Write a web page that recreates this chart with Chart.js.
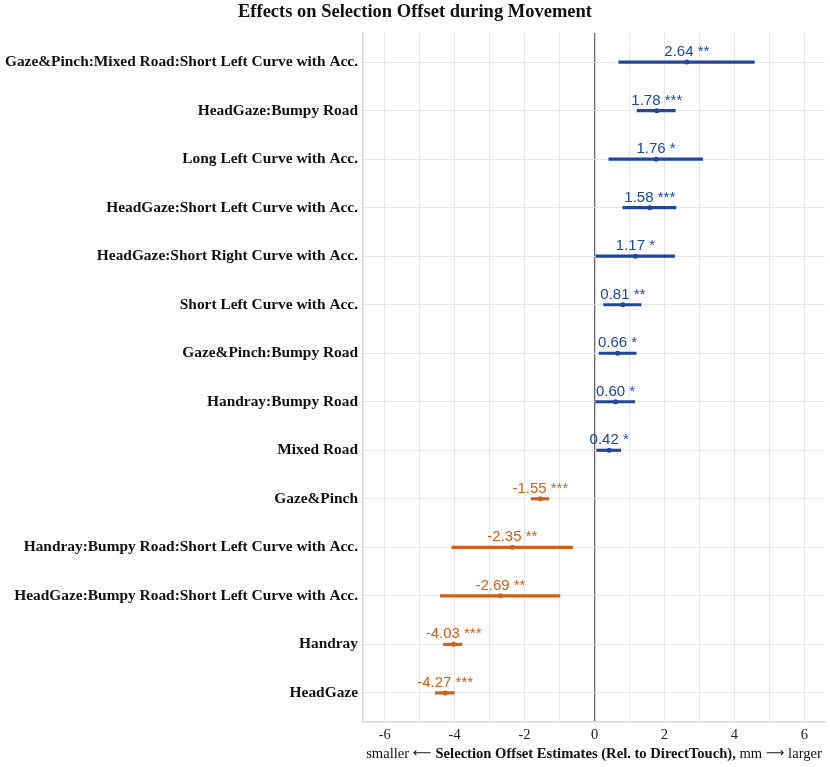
<!DOCTYPE html>
<html>
<head>
<meta charset="utf-8">
<script src="https://cdn.jsdelivr.net/npm/chart.js@4"></script>
<style>
  body { margin: 0; background: #fff; }
  #wrap { width: 830px; height: 767px; }
</style>
</head>
<body>
<div id="wrap"><canvas id="forestChart" width="830" height="767"></canvas></div>
<script>
// terms, top to bottom
const terms = [
    'Gaze&Pinch:Mixed Road:Short Left Curve with Acc.',
    'HeadGaze:Bumpy Road',
    'Long Left Curve with Acc.',
    'HeadGaze:Short Left Curve with Acc.',
    'HeadGaze:Short Right Curve with Acc.',
    'Short Left Curve with Acc.',
    'Gaze&Pinch:Bumpy Road',
    'Handray:Bumpy Road',
    'Mixed Road',
    'Gaze&Pinch',
    'Handray:Bumpy Road:Short Left Curve with Acc.',
    'HeadGaze:Bumpy Road:Short Left Curve with Acc.',
    'Handray',
    'HeadGaze'
];
const estimates = [2.64, 1.78, 1.76, 1.58, 1.17, 0.81, 0.66, 0.60, 0.42, -1.55, -2.35, -2.69, -4.03, -4.27];
const ciLow  = [0.69, 1.22, 0.41, 0.81, 0.04, 0.26, 0.13, 0.03, 0.06, -1.81, -4.08, -4.41, -4.32, -4.55];
const ciHigh = [4.57, 2.31, 3.09, 2.33, 2.29, 1.33, 1.19, 1.15, 0.75, -1.31, -0.63, -0.99, -3.79, -4.01];
const stars = ['**', '***', '*', '***', '*', '**', '*', '*', '*', '***', '**', '**', '***', '***'];
const xTicks = [-6, -5, -4, -3, -2, -1, 0, 1, 2, 3, 4, 5, 6];

const BLUE = '#21479b';
const ORANGE = '#cf5f1b';
const colors = estimates.map(v => v > 0 ? BLUE : ORANGE);

// estimate text above each point
const estimateLabels = {
    id: 'estimateLabels',
    afterDatasetsDraw(chart) {
        const ctx = chart.ctx;
        const meta = chart.getDatasetMeta(1);
        ctx.save();
        ctx.font = '15px "Liberation Sans", Arial, sans-serif';
        ctx.textAlign = 'center';
        ctx.textBaseline = 'alphabetic';
        meta.data.forEach((pt, i) => {
            ctx.fillStyle = colors[i];
            ctx.fillText(estimates[i].toFixed(2) + ' ' + stars[i], pt.x, pt.y - 6);
        });
        ctx.restore();
    }
};

// title and mixed-weight axis title
const titles = {
    id: 'titles',
    afterDraw(chart) {
        const ctx = chart.ctx;
        const area = chart.chartArea;
        ctx.save();
        ctx.fillStyle = '#111';
        ctx.textBaseline = 'middle';
        ctx.textAlign = 'center';
        ctx.font = 'bold 18.5px "Liberation Serif", serif';
        ctx.fillText('Effects on Selection Offset during Movement', chart.width / 2, 12);

        const parts = [
            ['smaller ', '14.6px "Liberation Serif", serif'],
            ['\u27F5 ', '13px "DejaVu Sans", sans-serif'],
            ['Selection Offset Estimates (Rel. to DirectTouch),', 'bold 14.6px "Liberation Serif", serif'],
            [' mm ', '14.6px "Liberation Serif", serif'],
            ['\u27F6', '13px "DejaVu Sans", sans-serif'],
            [' larger', '14.6px "Liberation Serif", serif']
        ];
        let total = 0;
        parts.forEach(p => { ctx.font = p[1]; total += ctx.measureText(p[0]).width; });
        let x = (area.left + area.right) / 2 - total / 2;
        ctx.textAlign = 'left';
        parts.forEach(p => {
            ctx.font = p[1];
            ctx.fillText(p[0], x, 754);
            x += ctx.measureText(p[0]).width;
        });
        ctx.restore();
    }
};

new Chart(document.getElementById('forestChart').getContext('2d'), {
    type: 'bar',
    data: {
        datasets: [{
            // confidence intervals
            type: 'bar',
            data: terms.map((t, i) => ({ y: i, x: [ciLow[i], ciHigh[i]] })),
            backgroundColor: colors,
            borderWidth: 0,
            barThickness: 2.5
        }, {
            // point estimates
            type: 'scatter',
            data: terms.map((t, i) => ({ y: i, x: estimates[i] })),
            backgroundColor: colors,
            borderColor: colors,
            pointRadius: 2.5,
            pointBorderWidth: 0
        }]
    },
    options: {
        indexAxis: 'y',
        responsive: false,
        animation: false,
        events: [],
        layout: { padding: { top: 33, right: 5, left: 0, bottom: 0 } },
        plugins: {
            legend: { display: false },
            tooltip: { enabled: false },
            title: { display: false }
        },
        scales: {
            x: {
                type: 'linear',
                min: -6.62,
                max: 6.59,
                afterBuildTicks: s => { s.ticks = xTicks.map(v => ({ value: v })); },
                afterFit: s => { s.height = 45; },
                ticks: {
                    callback: v => (v % 2 === 0 ? String(v) : ''),
                    color: '#222',
                    font: { family: '"Liberation Serif", serif', size: 14.5 },
                    padding: 4,
                    maxRotation: 0,
                    autoSkip: false
                },
                grid: {
                    drawTicks: false,
                    color: c => (c.tick && c.tick.value === 0 ? '#666' : '#e8e8e8'),
                    lineWidth: c => (c.tick && c.tick.value === 0 ? 1.3 : 1)
                },
                border: { display: true, color: '#d9d9d9', width: 1.5 }
            },
            y: {
                type: 'linear',
                reverse: true,
                offset: false,
                min: -0.6,
                max: 13.6,
                afterBuildTicks: s => { s.ticks = terms.map((t, i) => ({ value: i })); },
                afterFit: s => { s.width = 363; },
                ticks: {
                    callback: v => terms[v],
                    color: '#111',
                    font: { family: '"Liberation Serif", serif', size: 15.4, weight: 'bold' },
                    padding: 5,
                    autoSkip: false
                },
                grid: { offset: false, drawTicks: false, color: '#e8e8e8', lineWidth: 1 },
                border: { display: true, color: '#d9d9d9', width: 1.5 }
            }
        }
    },
    plugins: [estimateLabels, titles]
});
</script>
</body>
</html>
